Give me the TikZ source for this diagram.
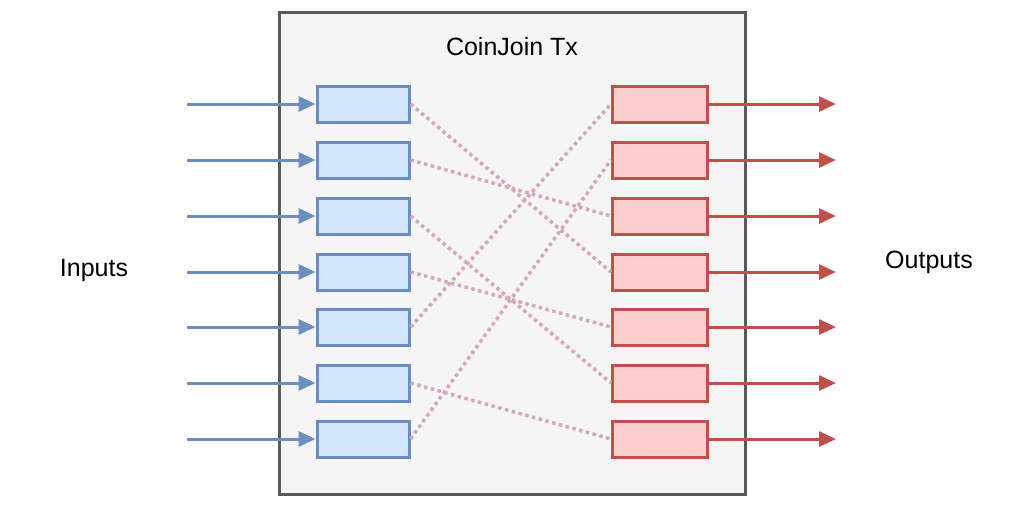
\documentclass[tikz,border=0pt]{standalone}
\usepackage{fontspec}
\setmainfont{Liberation Sans}
\usetikzlibrary{arrows.meta}
\definecolor{bfill}{HTML}{D4E6FC}\definecolor{bdraw}{HTML}{6C8EBF}
\definecolor{rfill}{HTML}{FBCDCD}\definecolor{rdraw}{HTML}{C0504D}
\definecolor{dotc}{HTML}{D5A6BD}
\begin{document}
\begin{tikzpicture}[x=1pt,y=-1pt,
 inb/.style={draw=bdraw,fill=bfill,line width=3pt,minimum width=92pt,minimum height=36pt,inner sep=0pt},
 outb/.style={draw=rdraw,fill=rfill,line width=3pt,minimum width=95pt,minimum height=36pt,inner sep=0pt},
 inarr/.style={draw=bdraw,line width=3pt,-{Triangle[length=17pt,width=15pt]}},
 outarr/.style={draw=rdraw,line width=3pt,-{Triangle[length=17pt,width=15pt]}},
 dl/.style={draw=dotc,line width=3.5pt,dash pattern=on 3.5pt off 3.5pt},
 lbl/.style={font=\fontsize{25}{30}\selectfont}]
\useasboundingbox (0,0) rectangle (1024,512);
\node[draw=black!65,fill=black!4,line width=3pt,minimum width=466pt,minimum height=482pt,inner sep=0pt] (tx) at (512,253) {};
\node[lbl] (title) at (512,47) {CoinJoin Tx};
\node[lbl] (inl) at (94,270) {Inputs};
\node[lbl] (outl) at (929,262) {Outputs};
\foreach \i/\y in {1/104,2/160,3/216,4/272,5/327,6/383,7/439}{
  \node[inb] (in\i) at (363,\y) {};
  \node[outb] (out\i) at (660,\y) {};
  \coordinate (s\i) at (187,\y);
  \coordinate (e\i) at (836,\y);
  \draw[inarr] (s\i) -- (in\i.west);
  \draw[outarr] (out\i.east) -- (e\i);
}
\foreach \a/\b in {1/4,2/3,3/6,4/5,5/1,6/7,7/2}
  \draw[dl] (in\a.east) -- (out\b.west);
\end{tikzpicture}
\end{document}
